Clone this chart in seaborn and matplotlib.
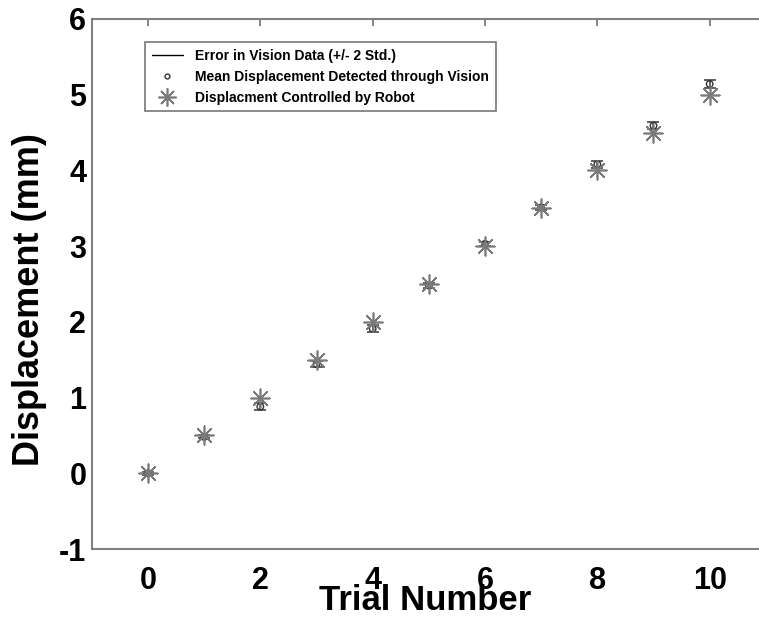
import numpy as np
import pandas as pd
import matplotlib
matplotlib.use("Agg")
import matplotlib.pyplot as plt
from matplotlib.lines import Line2D
import seaborn as sns

# trial data
trials = [0, 1, 2, 3, 4, 5, 6, 7, 8, 9, 10]
robot_disp = [0.0, 0.5, 1.0, 1.5, 2.0, 2.5, 3.0, 3.5, 4.0, 4.5, 5.0]
vision_mean = [0.0, 0.48, 0.88, 1.44, 1.91, 2.48, 3.03, 3.51, 4.08, 4.59, 5.14]
vision_err = [0.02, 0.02, 0.05, 0.04, 0.05, 0.03, 0.03, 0.03, 0.05, 0.05, 0.05]

df = pd.DataFrame({"trial": trials, "robot": robot_disp,
                   "vision": vision_mean, "err": vision_err})

sns.set_style("white")
plt.rcParams['font.family'] = ['Liberation Sans', 'DejaVu Sans']
plt.rcParams['font.weight'] = 'bold'
plt.rcParams['axes.unicode_minus'] = False

fig = plt.figure(figsize=(7.59, 6.20), dpi=100)
ax = fig.add_axes([0.121, 0.1145, 0.888, 0.855])

star = (8, 2, 0)
gray = '#7a7a7a'

ax.errorbar(df['trial'], df['vision'], yerr=df['err'], fmt='none',
            ecolor='#444444', elinewidth=1.2, capsize=4, capthick=1.2, zorder=2)
sns.scatterplot(data=df, x='trial', y='vision', marker='o', s=22,
                facecolors='none', edgecolor='#333333', linewidth=1.0,
                ax=ax, zorder=3)
sns.scatterplot(data=df, x='trial', y='robot', marker=star, s=180,
                color=gray, linewidth=1.2, ax=ax, zorder=4)

ax.set_xlim(-1, 11)
ax.set_ylim(-1, 6)
ax.set_xticks([0, 2, 4, 6, 8, 10])
ax.set_yticks([-1, 0, 1, 2, 3, 4, 5, 6])
ax.tick_params(direction='in', length=5, width=1.2, color='#707070',
               labelcolor='black', top=True, right=True, labelsize=22)
ax.tick_params(axis='x', pad=12)
ax.tick_params(axis='y', pad=4)
for lab in ax.get_xticklabels() + ax.get_yticklabels():
    lab.set_fontweight('bold')
for sp in ax.spines.values():
    sp.set_color('#808080')
    sp.set_linewidth(1.5)

ax.set_xlabel('Trial Number', fontsize=25, fontweight='bold', color='black')
ax.set_ylabel('Displacement (mm)', fontsize=26, fontweight='bold', color='black')
ax.xaxis.set_label_coords(0.494, -0.066)
ax.yaxis.set_label_coords(-0.067, 0.47)

handles = [
    Line2D([], [], color='black', linewidth=1.0),
    Line2D([], [], linestyle='none', marker='o', markersize=3.5,
           markerfacecolor='none', markeredgecolor='#333333'),
    Line2D([], [], linestyle='none', marker=star, markersize=13,
           color=gray, markeredgewidth=1.2),
]
labels = ['Error in Vision Data (+/- 2 Std.)',
          'Mean Displacement Detected through Vision',
          'Displacment Controlled by Robot']
leg = ax.legend(handles, labels, loc='upper left', bbox_to_anchor=(0.079, 0.957),
                fontsize=10, frameon=True, fancybox=False, borderpad=0.5,
                labelspacing=0.5, handlelength=2.2, handletextpad=0.9,
                borderaxespad=0)
leg.get_frame().set_edgecolor('#555555')
leg.get_frame().set_linewidth(1.2)
for t in leg.get_texts():
    t.set_fontweight('bold')
    t.set_color('black')

fig.savefig('out.png', dpi=100)
